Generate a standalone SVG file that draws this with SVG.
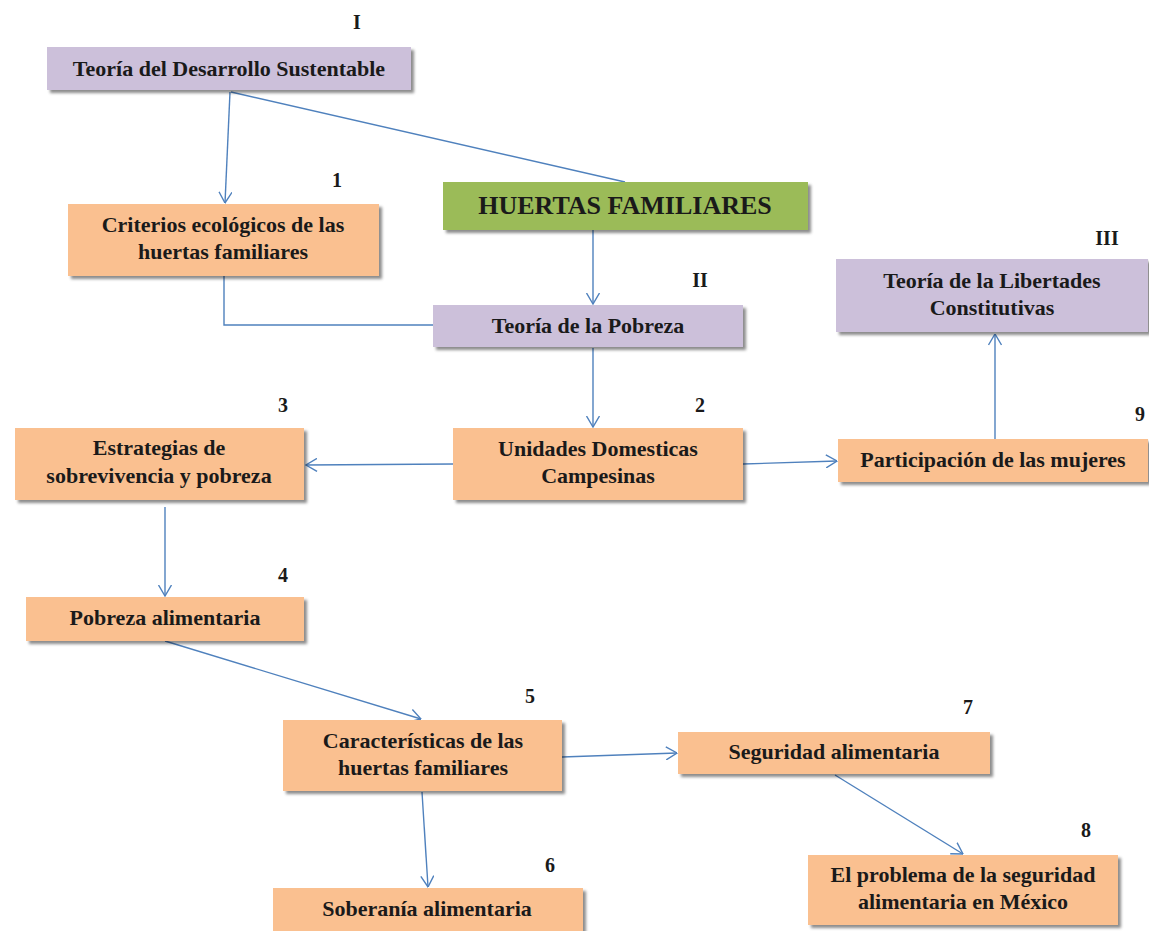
<svg xmlns="http://www.w3.org/2000/svg" width="1149" height="931" viewBox="0 0 1149 931">
<defs>
<filter id="sh" x="-5%" y="-20%" width="115%" height="150%">
<feDropShadow dx="3" dy="3" stdDeviation="1.5" flood-color="#000" flood-opacity="0.45"/>
</filter>
<marker id="ah" viewBox="0 0 12 14" refX="11.5" refY="7" markerWidth="12" markerHeight="14" markerUnits="userSpaceOnUse" orient="auto">
<path d="M0.5,0.5 L11.5,7 L0.5,13.5" fill="none" stroke="#4F81BD" stroke-width="1.4"/>
</marker>
</defs>
<style>
.p{fill:#CCC0DA;filter:url(#sh)}
.o{fill:#FAC090;filter:url(#sh)}
.g{fill:#9BBB59;filter:url(#sh)}
text{font-family:"Liberation Serif","DejaVu Serif",serif;font-weight:bold;fill:#1a1a1a}
.t{font-size:22px;text-anchor:middle}
.n{font-size:20px;text-anchor:middle}
.c{fill:none;stroke:#4F81BD;stroke-width:1.4}
</style>
<rect width="1149" height="931" fill="#fff"/>
<g id="connectors">
<path class="c" d="M625,182 L231,92"/>
<path class="c" d="M230,92 L225,203" marker-end="url(#ah)"/>
<path class="c" d="M224,276 L224,325 L433,325"/>
<path class="c" d="M593,230 L593,304" marker-end="url(#ah)"/>
<path class="c" d="M593,348 L593,427" marker-end="url(#ah)"/>
<path class="c" d="M453,464 L306,465" marker-end="url(#ah)"/>
<path class="c" d="M743,464 L837,461" marker-end="url(#ah)"/>
<path class="c" d="M995,439 L995,334" marker-end="url(#ah)"/>
<path class="c" d="M165,507 L165,596" marker-end="url(#ah)"/>
<path class="c" d="M165,641 L421,719" marker-end="url(#ah)"/>
<path class="c" d="M562,757 L677,753" marker-end="url(#ah)"/>
<path class="c" d="M422,792 L428,887" marker-end="url(#ah)"/>
<path class="c" d="M835,775 L963,854" marker-end="url(#ah)"/>
</g>
<g id="n-desarrollo"><rect class="p" x="47" y="47" width="364" height="43"/><text class="t" x="229" y="76">Teoría del Desarrollo Sustentable</text><text class="n" x="357" y="29">I</text></g>
<g id="n-criterios"><rect class="o" x="68" y="204" width="311" height="72"/><text class="t" x="223" y="232">Criterios ecológicos de las</text><text class="t" x="223" y="259">huertas familiares</text><text class="n" x="337" y="187">1</text></g>
<g id="n-huertas"><rect class="g" x="443" y="182" width="365" height="48"/><text x="625" y="214" style="font-size:26px;text-anchor:middle">HUERTAS FAMILIARES</text></g>
<g id="n-pobreza"><rect class="p" x="433" y="305" width="310" height="42"/><text class="t" x="588" y="333">Teoría de la Pobreza</text><text class="n" x="700" y="287">II</text></g>
<g id="n-libertades"><rect class="p" x="836" y="259" width="312" height="73"/><text class="t" x="992" y="288">Teoría de la Libertades</text><text class="t" x="992" y="315">Constitutivas</text><text class="n" x="1107" y="245">III</text></g>
<g id="n-unidades"><rect class="o" x="453" y="428" width="290" height="72"/><text class="t" x="598" y="456">Unidades Domesticas</text><text class="t" x="598" y="483">Campesinas</text><text class="n" x="700" y="412">2</text></g>
<g id="n-estrategias"><rect class="o" x="15" y="428" width="289" height="72"/><text class="t" x="159" y="455">Estrategias de</text><text class="t" x="159" y="483">sobrevivencia y pobreza</text><text class="n" x="283" y="412">3</text></g>
<g id="n-participacion"><rect class="o" x="838" y="439" width="310" height="43"/><text class="t" x="993" y="467">Participación de las mujeres</text><text class="n" x="1140" y="421">9</text></g>
<g id="n-pobreza-alim"><rect class="o" x="26" y="597" width="278" height="44"/><text class="t" x="165" y="625">Pobreza alimentaria</text><text class="n" x="283" y="582">4</text></g>
<g id="n-caracteristicas"><rect class="o" x="283" y="720" width="279" height="71"/><text class="t" x="423" y="748">Características de las</text><text class="t" x="423" y="775">huertas familiares</text><text class="n" x="530" y="703">5</text></g>
<g id="n-seguridad"><rect class="o" x="678" y="732" width="312" height="42"/><text class="t" x="834" y="759">Seguridad alimentaria</text><text class="n" x="968" y="714">7</text></g>
<g id="n-problema"><rect class="o" x="808" y="855" width="310" height="70"/><text class="t" x="963" y="882">El problema de la seguridad</text><text class="t" x="963" y="909">alimentaria en México</text><text class="n" x="1086" y="837">8</text></g>
<g id="n-soberania"><rect class="o" x="273" y="888" width="310" height="50"/><text class="t" x="427" y="916">Soberanía alimentaria</text><text class="n" x="550" y="872">6</text></g>
</svg>
